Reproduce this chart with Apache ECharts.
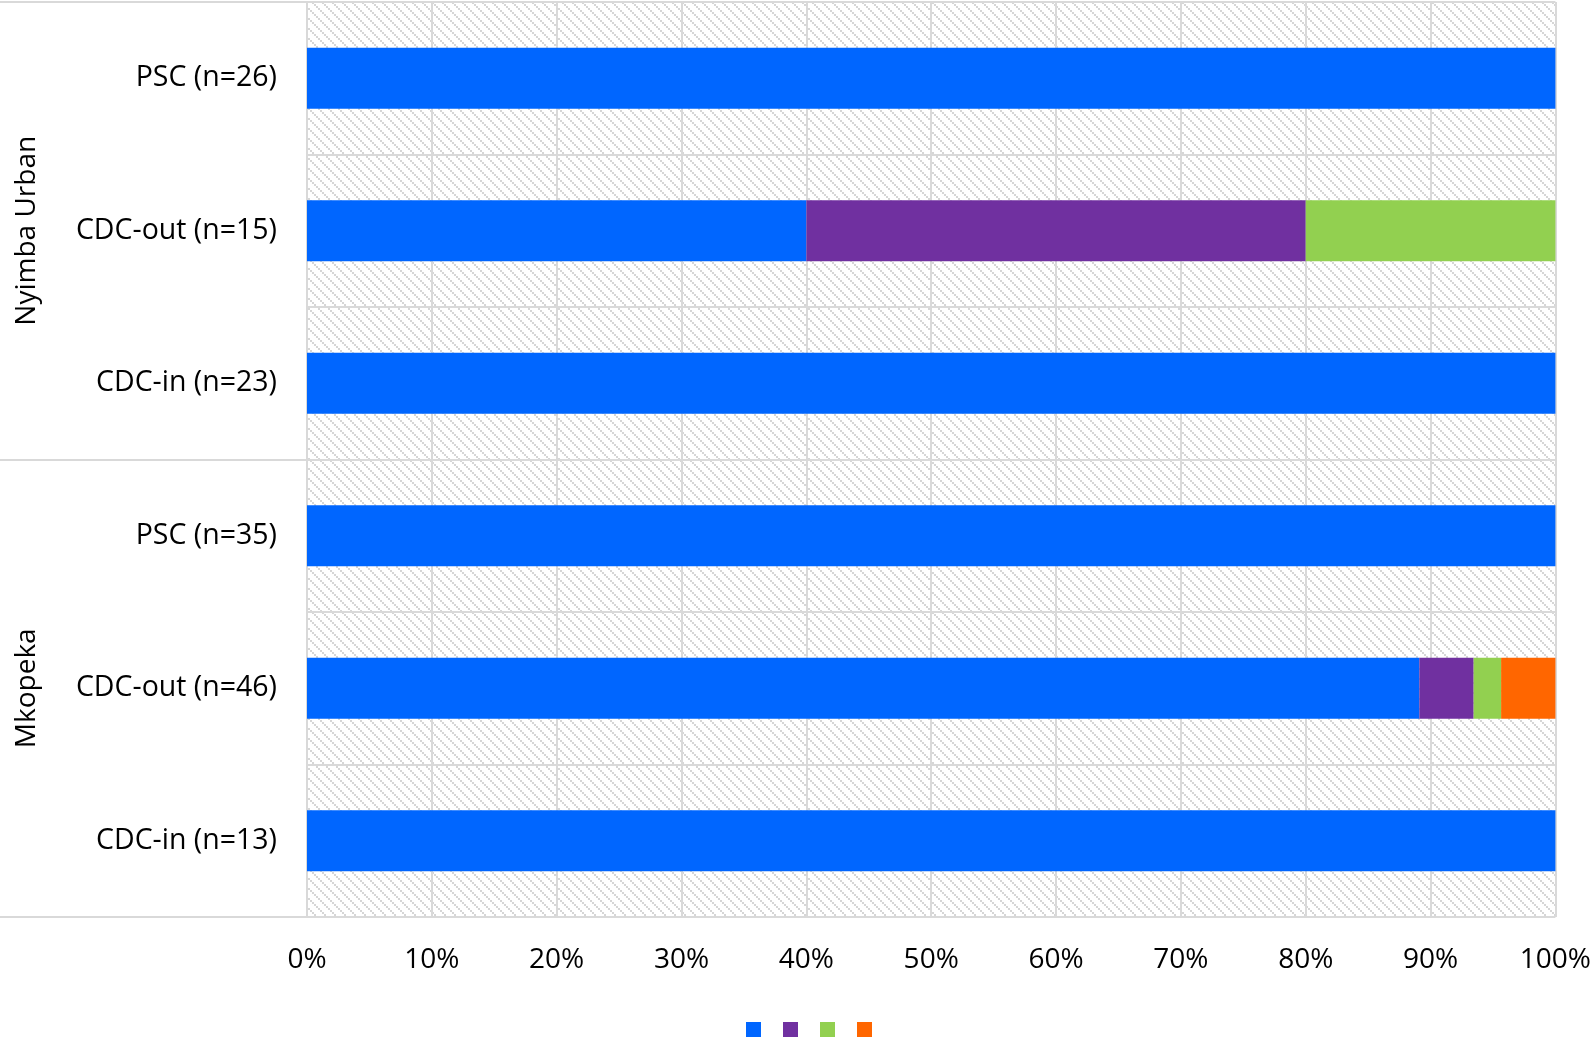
<!DOCTYPE html>
<html>
<head>
<meta charset="utf-8">
<script src="https://cdn.jsdelivr.net/npm/echarts@6/dist/echarts.min.js"></script>
<style>
html,body{margin:0;padding:0;background:#fff;}
#chart{width:1594px;height:1037px;}
</style>
</head>
<body>
<div id="chart"></div>
<script>
const categories = ['PSC (n=26)', 'CDC-out (n=15)', 'CDC-in (n=23)', 'PSC (n=35)', 'CDC-out (n=46)', 'CDC-in (n=13)'];
const groups = ['Nyimba Urban', 'Mkopeka'];
const seriesNames = ['s1', 's2', 's3', 's4'];
const blueVals   = [100, 40, 100, 100, 89.1, 100];
const purpleVals = [0, 40, 0, 0, 4.35, 0];
const greenVals  = [0, 20, 0, 0, 2.2, 0];
const orangeVals = [0, 0, 0, 0, 4.35, 0];
const xTicks = [0, 10, 20, 30, 40, 50, 60, 70, 80, 90, 100];

const colors = ['#0066FF', '#7030A0', '#92D050', '#FF6600'];
const FONT = '"Open Sans", sans-serif';
const GRID_COL = '#d9d9d9';

// hatch pattern
const tile = document.createElement('canvas');
tile.width = 10; tile.height = 10;
const tctx = tile.getContext('2d');
tctx.fillStyle = '#ffffff';
tctx.fillRect(0, 0, 10, 10);
tctx.fillStyle = '#d6d6d6';
for (let i = 0; i < 10; i += 2) {
  tctx.fillRect(i, i, 2, 2);
}

const chart = echarts.init(document.getElementById('chart'));
const vals = [blueVals, purpleVals, greenVals, orangeVals];
chart.setOption({
  animation: false,
  grid: {
    left: 307, right: 33, top: 2, bottom: 120,
    show: true,
    backgroundColor: { image: tile, repeat: 'repeat' },
    borderWidth: 0
  },
  legend: {
    left: 746, top: 1022, padding: 0,
    itemWidth: 15, itemHeight: 15, itemGap: 22,
    icon: 'rect',
    formatter: function () { return ''; },
    data: seriesNames
  },
  xAxis: {
    type: 'value', min: xTicks[0], max: xTicks[xTicks.length - 1], interval: 10,
    axisLine: { show: false }, axisTick: { show: false },
    splitLine: { show: true, lineStyle: { color: GRID_COL, width: 2 } },
    axisLabel: {
      formatter: '{value}%', fontFamily: FONT, fontSize: 28, color: '#000', margin: 29
    }
  },
  yAxis: [
    {
      type: 'category', data: categories, inverse: true,
      axisLine: { show: true, lineStyle: { color: GRID_COL, width: 2 } },
      axisTick: { show: false },
      splitLine: { show: true, lineStyle: { color: GRID_COL, width: 2 } },
      axisLabel: { fontFamily: FONT, fontSize: 28.5, color: '#000', margin: 30 }
    },
    {
      type: 'category', data: groups, inverse: true, position: 'left', offset: 0,
      axisLine: { show: false },
      axisTick: { show: true, length: 307, lineStyle: { color: GRID_COL, width: 2 } },
      splitLine: { show: false },
      axisLabel: { fontFamily: FONT, fontSize: 28, color: '#000', rotate: 90, margin: 266 }
    }
  ],
  series: seriesNames.map((n, i) => ({
    name: n, type: 'bar', stack: 'total', yAxisIndex: 0,
    barCategoryGap: '60%',
    itemStyle: { color: colors[i] },
    data: vals[i]
  }))
});
</script>
</body>
</html>
